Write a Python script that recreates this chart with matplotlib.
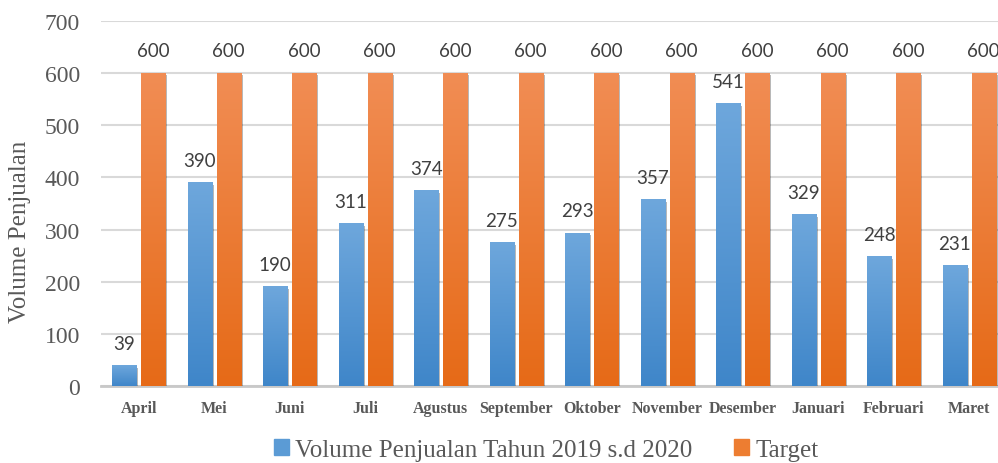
import matplotlib
matplotlib.use("Agg")
import matplotlib.pyplot as plt
import matplotlib.patheffects as pe
import numpy as np
from matplotlib.colors import LinearSegmentedColormap
from matplotlib.patches import Rectangle

months = ["April", "Mei", "Juni", "Juli", "Agustus", "September", "Oktober",
          "November", "Desember", "Januari", "Februari", "Maret"]
volume = [39, 390, 190, 311, 374, 275, 293, 357, 541, 329, 248, 231]
target = [600] * 12
series_names = ["Volume Penjualan Tahun 2019 s.d 2020", "Target"]
y_ticks = [0, 100, 200, 300, 400, 500, 600, 700]

serif = "Liberation Serif"
sans = "Lato"
grey = "#595959"

fig = plt.figure(figsize=(9.98, 4.64), dpi=100)
ax = fig.add_axes([101/998, 77/464, 906/998, 365/464])

x = np.arange(len(months))
w = 0.32
gap = 0.065
blue_cmap = LinearSegmentedColormap.from_list("b", ["#3f86c9", "#6ea7dc"])
orange_cmap = LinearSegmentedColormap.from_list("o", ["#e66a17", "#f18d54"])

grad = np.linspace(0, 1, 256).reshape(-1, 1)

def draw(xs, vals, cmap):
    bars = ax.bar(xs, vals, width=w, color="#888888", zorder=3,
                  path_effects=[pe.SimplePatchShadow(offset=(1.5, -1.5), shadow_rgbFace="#000000", alpha=0.28),
                                pe.Normal()])
    for b in bars:
        x0 = b.get_x(); x1 = x0 + b.get_width(); h = b.get_height()
        ax.imshow(grad, extent=[x0, x1, 0, h], origin="lower", aspect="auto",
                  cmap=cmap, zorder=4, interpolation="bilinear")
    return bars

bx = x - (w + gap) / 2
ox = x + (w + gap) / 2
bb = draw(bx, volume, blue_cmap)
ob = draw(ox, target, orange_cmap)

for xs, vals in [(bx, volume), (ox, target)]:
    for xi, v in zip(xs, vals):
        ax.annotate(str(v), (xi, v), xytext=(0, 10), textcoords="offset points",
                    ha="center", va="bottom", fontsize=13.5, family=sans, color="#404040", zorder=6)

ax.set_xlim(-0.5, len(months) - 0.5)
ax.set_ylim(0, 700)
ax.set_yticks(y_ticks)
ax.set_yticklabels([str(t) for t in y_ticks], family=serif, fontsize=17, color=grey)
ax.set_xticks(x)
ax.set_xticklabels(months, family=serif, fontsize=11.5, fontweight="bold", color=grey)
ax.tick_params(axis="y", length=0, pad=15)
ax.tick_params(axis="x", length=0, pad=10)
ax.grid(axis="y", color="#d9d9d9", linewidth=1.5, zorder=0)
ax.set_axisbelow(True)
for s in ["top", "right", "left"]:
    ax.spines[s].set_visible(False)
ax.spines["bottom"].set_color("#c8c8c8")
ax.spines["bottom"].set_linewidth(2)
ax.spines["bottom"].set_zorder(2)

fig.text(20/998, 1 - 232/464, "Volume Penjualan", rotation=90, family=serif, fontsize=18,
         color=grey, ha="center", va="center")

handles = [Rectangle((0, 0), 1, 1, color="#5b9bd5"), Rectangle((0, 0), 1, 1, color="#ed7d31")]
leg = fig.legend(handles, series_names, loc="center", bbox_to_anchor=(546/998, 1 - 451/464), ncol=2,
                 frameon=False, prop={"family": serif, "size": 18}, handlelength=0.6,
                 handleheight=0.6, handletextpad=0.25, columnspacing=1.68,
                 borderpad=0, borderaxespad=0)
for t in leg.get_texts():
    t.set_color(grey)

fig.savefig("out.png", dpi=100)
